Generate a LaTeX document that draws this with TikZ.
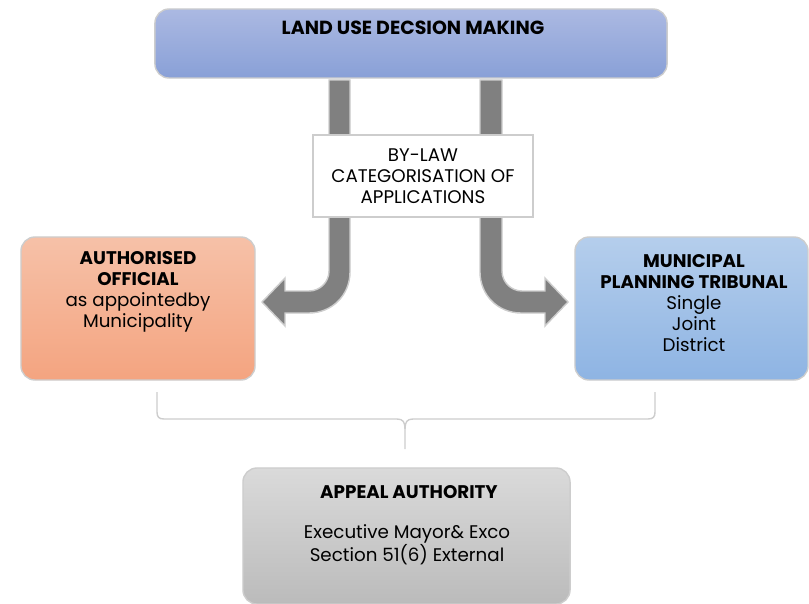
\documentclass[tikz,border=0pt]{standalone}
\usepackage{fontspec}
\setmainfont{Poppins}
\usepackage{tikz}
\usetikzlibrary{positioning,calc}
\definecolor{topup}{RGB}{171,185,226}
\definecolor{topdown}{RGB}{137,160,215}
\definecolor{offup}{RGB}{246,193,168}
\definecolor{offdown}{RGB}{244,164,128}
\definecolor{mptup}{RGB}{181,206,236}
\definecolor{mptdown}{RGB}{142,180,227}
\definecolor{appup}{RGB}{218,218,218}
\definecolor{appdown}{RGB}{187,187,187}
\definecolor{boxline}{RGB}{205,205,205}
\definecolor{arrowgray}{RGB}{128,128,128}

\tikzset{
  box/.style={draw=boxline,line width=1pt,rounded corners=10pt,inner sep=0pt},
  txt/.style={align=center,inner sep=0pt},
  bendarrow/.style={fill=arrowgray,draw=boxline,line width=1pt},
}

\begin{document}
\begin{tikzpicture}[x=0.025cm,y=-0.025cm,font=\fontsize{13}{15}\selectfont]
  \useasboundingbox (0,0) rectangle (809,604);
  % land use decision making
  \node[box,top color=topup,bottom color=topdown,minimum width=12.8cm,
    minimum height=1.725cm] (top) at (411,43.5) {};
  \node[txt,font=\fontsize{13.5}{15}\selectfont\bfseries] (toptxt) at (413,28)
    {LAND USE DECSION MAKING};
  % bent arrows
  \draw[bendarrow] (329,80) -- (329,271) .. controls (329,282) and (320,291) .. (309,291)
    -- (285,291) -- (285,278) -- (262,302) -- (285,326) -- (285,313) -- (309,313)
    .. controls (332,313) and (350,295) .. (350,272) -- (350,80) -- cycle;
  \draw[bendarrow] (502,80) -- (502,271) .. controls (502,282) and (511,291) .. (522,291)
    -- (545,291) -- (545,278) -- (568,302) -- (545,326) -- (545,313) -- (521,313)
    .. controls (498,313) and (480,295) .. (480,272) -- (480,80) -- cycle;
  % by-law
  \node[box,rounded corners=0pt,fill=white,minimum width=5.5cm,minimum height=2.05cm,
    txt] (bylaw) at (423,176) {BY-LAW\\CATEGORISATION OF\\APPLICATIONS};
  % decision makers
  \node[box,top color=offup,bottom color=offdown,minimum width=5.85cm,
    minimum height=3.575cm] (official) at (138,308.5) {};
  \node[txt,anchor=north] (officialtxt) at (138,251)
    {\textbf{AUTHORISED}\\\textbf{OFFICIAL}\\as appointedby\\Municipality};
  \node[box,top color=mptup,bottom color=mptdown,minimum width=5.825cm,
    minimum height=3.575cm] (mpt) at (691.5,308.5) {};
  \node[txt] (mpttxt) at (694,303)
    {\textbf{MUNICIPAL}\\\textbf{PLANNING TRIBUNAL}\\Single\\Joint\\District};
  % appeal
  \node[box,top color=appup,bottom color=appdown,minimum width=8.175cm,
    minimum height=3.4cm] (appeal) at (406.5,536) {};
  \node[txt,font=\fontsize{13}{15}\selectfont\bfseries] (appealhead) at (409,492)
    {APPEAL AUTHORITY};
  \node[txt] (appealtxt) at (407,545)
    {Executive Mayor\& Exco\\Section 51(6) External};
  % brace
  \coordinate (bl) at (157,392);
  \coordinate (br) at (655,392);
  \coordinate (tip) at (405,449);
  \draw[boxline,line width=1pt] (bl) -- (157,412) .. controls (157,417) and (159,419) .. (164,419)
    -- (397,419) .. controls (403,419) and (405,422) .. (405,429) -- (tip);
  \draw[boxline,line width=1pt] (br) -- (655,412) .. controls (655,417) and (653,419) .. (648,419)
    -- (413,419) .. controls (407,419) and (405,422) .. (405,429);
\end{tikzpicture}
\end{document}
